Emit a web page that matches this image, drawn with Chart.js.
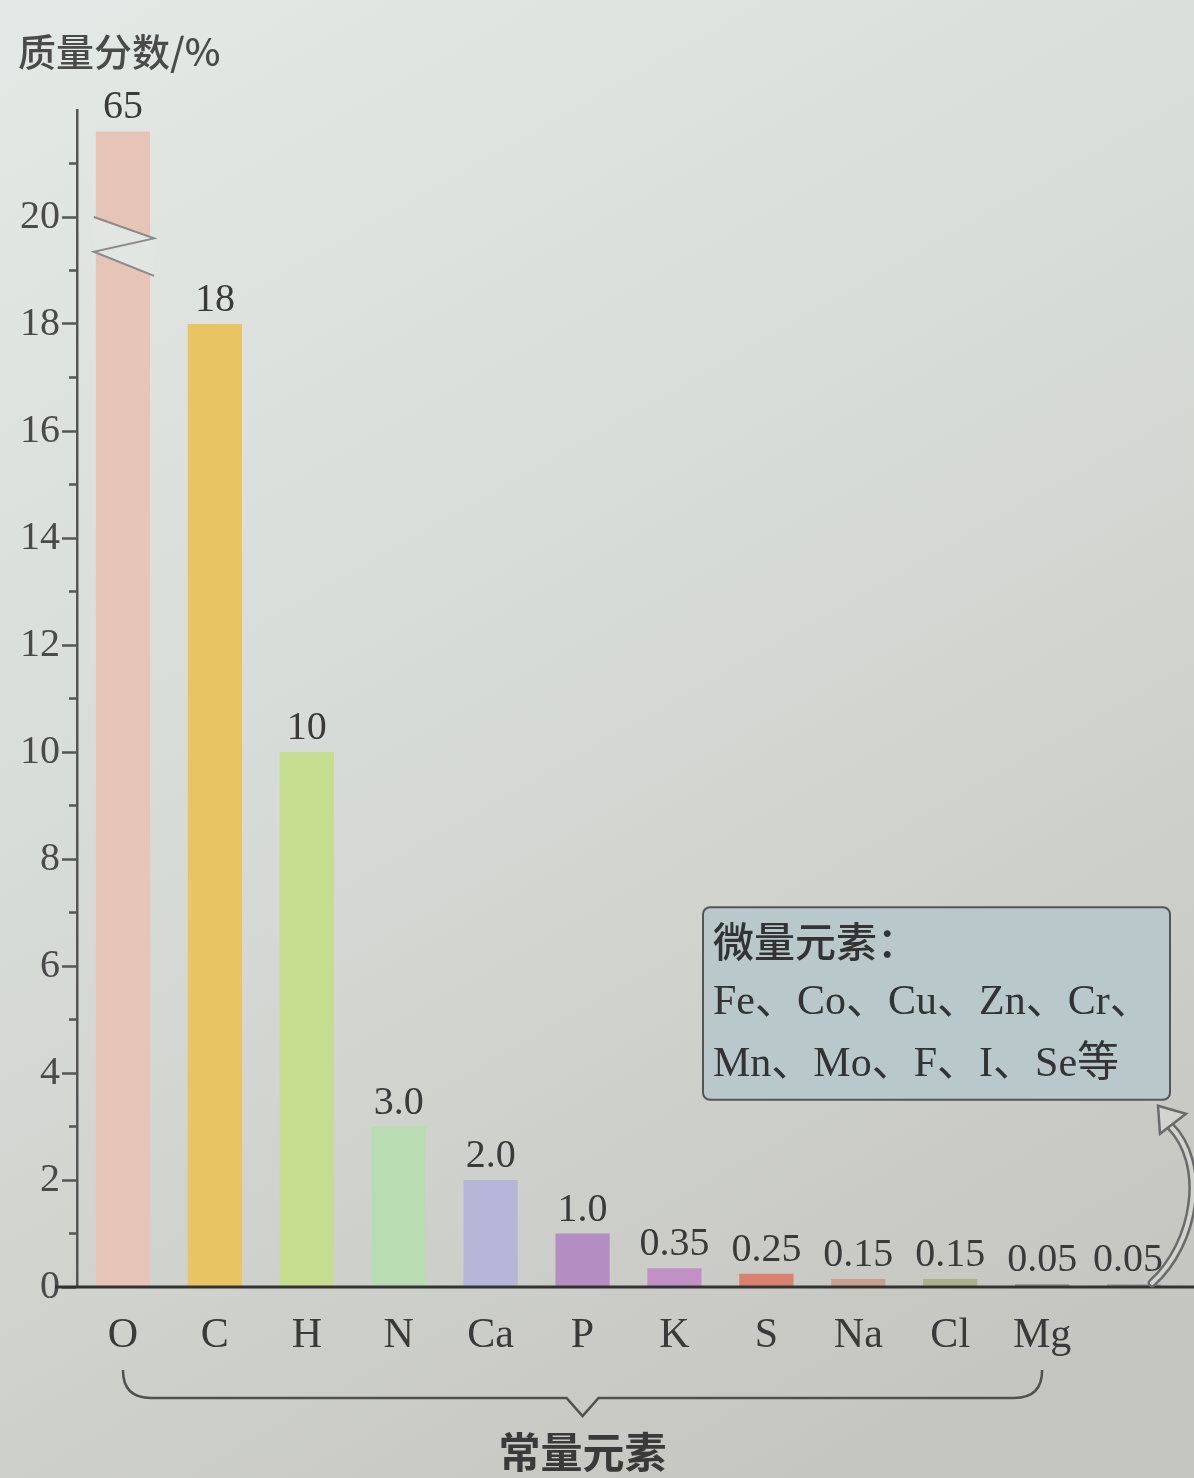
<!DOCTYPE html>
<html>
<head>
<meta charset="utf-8">
<script src="https://cdn.jsdelivr.net/npm/chart.js@4.4.1/dist/chart.umd.min.js"></script>
<style>
  html, body { margin: 0; padding: 0; background: #d8dcd8; }
  #wrap { width: 1194px; height: 1478px; position: relative; }
</style>
</head>
<body>
<div id="wrap"><canvas id="chart_elementMassFraction"></canvas></div>
<script>
// element categories (last one = trace elements, no axis label)
var elements = ['O', 'C', 'H', 'N', 'Ca', 'P', 'K', 'S', 'Na', 'Cl', 'Mg', ''];
var massFraction = [65, 18, 10, 3.0, 2.0, 1.0, 0.35, 0.25, 0.15, 0.15, 0.05, 0.05];
var valueLabels = ['65', '18', '10', '3.0', '2.0', '1.0', '0.35', '0.25', '0.15', '0.15', '0.05', '0.05'];
var barColors = ['#e6c4b6', '#e9c462', '#c6dc8e', '#badcb2', '#b6b6d8', '#b48ec2', '#c290c6',
                 '#d9806e', '#c9a08e', '#aab28c', '#8c8c88', '#9a9a96'];
var yTickLabels = ['0', '2', '4', '6', '8', '10', '12', '14', '16', '18', '20'];
var axisBreakCap = 21.6;   // the O bar is cut off here with a break mark
var yTitle = '质量分数/%';
var majorGroup = '常量元素';
var traceBox = ['微量元素：', 'Fe、Co、Cu、Zn、Cr、', 'Mn、Mo、F、I、Se等'];

var SERIF = '"Liberation Serif", "DejaVu Serif", "Noto Sans CJK SC", serif';
var CJK = '"Noto Sans CJK SC", sans-serif';
var INK = '#3a3a3a';

var barHeights = massFraction.map(function (v) { return Math.min(v, axisBreakCap); });

var chart_elementMassFraction = new Chart(document.getElementById('chart_elementMassFraction'), {
    type: 'bar',
    data: {
        labels: elements,
        datasets: [
            {
                label: yTitle,
                data: barHeights,
                backgroundColor: barColors,
                borderWidth: 0,
                categoryPercentage: 1,
                barPercentage: 0.59
            }
        ]
    },
    options: {
        animation: false,
        responsive: true,
        maintainAspectRatio: false,
        layout: {
            padding: { top: 110, right: 14, left: 0, bottom: 0 }
        },
        plugins: {
            legend: { display: false },
            tooltip: { enabled: false },
            title: { display: false }
        },
        scales: {
            x: {
                grid: { display: false, drawTicks: false },
                border: { display: false },
                ticks: {
                    color: INK,
                    padding: 24,
                    font: { family: SERIF, size: 42 }
                },
                afterFit: function (s) { s.height = 191; }
            },
            y: {
                type: 'linear',
                min: 0,
                max: 22,
                grid: {
                    drawOnChartArea: false,
                    tickLength: 15,
                    tickWidth: 2.5,
                    tickColor: function (c) {
                        var v = c.tick ? c.tick.value : 0;
                        return (v % 2 === 0 && v <= 20) ? '#555' : 'rgba(0,0,0,0)';
                    }
                },
                border: { display: true, color: '#555', width: 2.5 },
                ticks: {
                    stepSize: 1,
                    autoSkip: false,
                    padding: 2,
                    color: '#4a4a4a',
                    font: { family: SERIF, size: 40 },
                    callback: function (value) {
                        var i = yTickLabels.indexOf(String(value));
                        return i >= 0 ? yTickLabels[i] : '';
                    }
                },
                afterFit: function (s) { s.width = 77; }
            }
        }
    },
    plugins: [{
        id: 'paperBackground',
        beforeDraw: function (chart) {
            var ctx = chart.ctx, w = chart.width, h = chart.height;
            ctx.save();
            var g = ctx.createLinearGradient(0, 0, w * 0.7, h);
            g.addColorStop(0, '#e3e9e6');
            g.addColorStop(0.45, '#d8dcd8');
            g.addColorStop(1, '#c6c6c0');
            ctx.fillStyle = g;
            ctx.fillRect(0, 0, w, h);
            ctx.restore();
        }
    }, {
        id: 'decorations',
        afterDatasetsDraw: function (chart) {
            var ctx = chart.ctx;
            var xs = chart.scales.x, ys = chart.scales.y;
            var area = chart.chartArea;
            var meta = chart.getDatasetMeta(0);
            var y0 = ys.getPixelForValue(0);
            ctx.save();

            // minor ticks on y axis
            ctx.strokeStyle = '#555';
            ctx.lineWidth = 2.5;
            for (var v = 1; v <= 21; v += 2) {
                var py = ys.getPixelForValue(v);
                ctx.beginPath();
                ctx.moveTo(area.left - 8, py);
                ctx.lineTo(area.left, py);
                ctx.stroke();
            }

            // baseline (x axis), running past both ends
            ctx.strokeStyle = '#333';
            ctx.lineWidth = 3;
            ctx.beginPath();
            ctx.moveTo(area.left - 22, y0);
            ctx.lineTo(chart.width, y0);
            ctx.stroke();

            // break mark on the O bar
            var ob = meta.data[0];
            var half = ob.width / 2;
            var l = ob.x - half - 2, r = ob.x + half + 4;
            var u1 = ys.getPixelForValue(20.0), u2 = ys.getPixelForValue(19.6);
            var d1 = ys.getPixelForValue(19.35), d2 = ys.getPixelForValue(18.9);
            ctx.fillStyle = '#e2e6e2';
            ctx.beginPath();
            ctx.moveTo(l, u1); ctx.lineTo(r, u2); ctx.lineTo(r, d2); ctx.lineTo(l, d1);
            ctx.closePath();
            ctx.fill();
            ctx.strokeStyle = '#8a8a8a';
            ctx.lineWidth = 2;
            ctx.beginPath();
            ctx.moveTo(l, u1); ctx.lineTo(r, u2); ctx.lineTo(l, d1); ctx.lineTo(r, d2);
            ctx.stroke();

            // value labels above bars
            ctx.fillStyle = INK;
            ctx.font = '40px ' + SERIF;
            ctx.textAlign = 'center';
            ctx.textBaseline = 'alphabetic';
            meta.data.forEach(function (bar, i) {
                var lx = bar.x;
                if (i === valueLabels.length - 1) lx -= 6;
                ctx.fillText(valueLabels[i], lx, bar.y - 13);
            });

            // y axis title
            ctx.fillStyle = '#4a4a4a';
            ctx.font = '500 38px ' + CJK;
            ctx.textAlign = 'left';
            ctx.textBaseline = 'middle';
            ctx.fillText(yTitle, 18, 52);

            // brace under the major elements
            var bx1 = xs.getPixelForValue(0), bx2 = xs.getPixelForValue(10);
            var bm = (bx1 + bx2) / 2;
            var by = area.bottom + 111;
            ctx.strokeStyle = '#505050';
            ctx.lineWidth = 2.5;
            ctx.beginPath();
            ctx.moveTo(bx1, by - 28);
            ctx.quadraticCurveTo(bx1, by, bx1 + 28, by);
            ctx.lineTo(bm - 16, by);
            ctx.lineTo(bm, by + 18);
            ctx.lineTo(bm + 16, by);
            ctx.lineTo(bx2 - 28, by);
            ctx.quadraticCurveTo(bx2, by, bx2, by - 28);
            ctx.stroke();
            ctx.fillStyle = INK;
            ctx.font = '600 42px ' + CJK;
            ctx.textAlign = 'center';
            ctx.fillText(majorGroup, bm, by + 54);

            // trace element box
            var boxR = chart.width - 24, boxL = boxR - 467;
            var boxT = ys.getPixelForValue(7.1), boxB = ys.getPixelForValue(3.5);
            ctx.fillStyle = '#b9c8ca';
            ctx.strokeStyle = '#555';
            ctx.lineWidth = 2;
            ctx.beginPath();
            ctx.roundRect(boxL, boxT, boxR - boxL, boxB - boxT, 7);
            ctx.fill();
            ctx.stroke();
            ctx.fillStyle = '#333';
            ctx.textAlign = 'left';
            ctx.textBaseline = 'middle';
            ctx.font = '500 41px ' + CJK;
            ctx.fillText(traceBox[0], boxL + 10, boxT + 34);
            ctx.font = '42px ' + SERIF;
            ctx.fillText(traceBox[1], boxL + 10, boxT + 96);
            ctx.fillText(traceBox[2], boxL + 10, boxT + 158);

            // hollow curved arrow from the trace value up to the box
            var last = meta.data[meta.data.length - 1];
            var sx = last.x + 18, sy = y0 - 4;
            var tx = boxR - 8, ty = boxB + 4;
            function arrowPath() {
                ctx.beginPath();
                ctx.moveTo(sx, sy);
                ctx.bezierCurveTo(sx + 44, sy - 40, sx + 56, ty + 60, tx + 8, ty + 22);
            }
            ctx.lineCap = 'round';
            ctx.strokeStyle = '#6a6a6a';
            ctx.lineWidth = 9;
            arrowPath(); ctx.stroke();
            ctx.strokeStyle = '#d2d4d0';
            ctx.lineWidth = 4;
            arrowPath(); ctx.stroke();
            ctx.fillStyle = '#d2d4d0';
            ctx.strokeStyle = '#6a6a6a';
            ctx.lineWidth = 2.5;
            ctx.beginPath();
            ctx.moveTo(tx - 4, ty + 2);
            ctx.lineTo(tx + 24, ty + 10);
            ctx.lineTo(tx - 2, ty + 30);
            ctx.closePath();
            ctx.fill();
            ctx.stroke();

            ctx.restore();
        }
    }]
});
</script>
</body>
</html>
